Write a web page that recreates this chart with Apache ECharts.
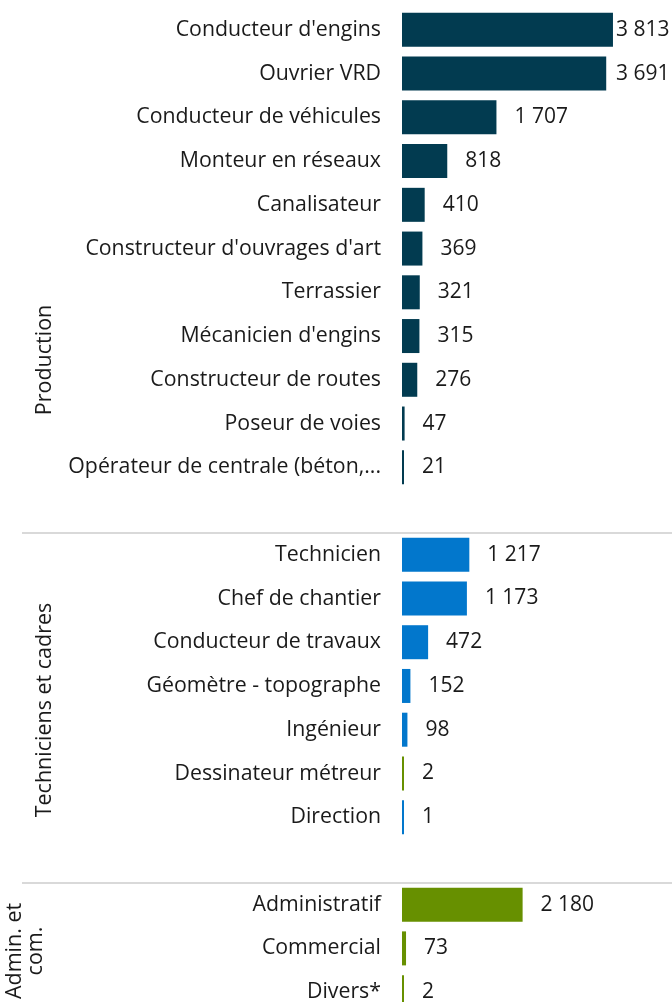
<!DOCTYPE html>
<html lang="fr">
<head>
    <meta charset="UTF-8">
    <title>Métiers</title>
    <script type="text/javascript" src="https://cdn.jsdelivr.net/npm/echarts@6/dist/echarts.min.js"></script>
    <style>
        html, body { margin: 0; padding: 0; background: #fff; }
    </style>
</head>
<body>
    <div id="main" style="width: 672px;height:1002px;"></div>

    <script type="text/javascript">

    // groupes et métiers
    var groupNames = ['Production', 'Techniciens et cadres', 'Admin. et\ncom.'];

    var prodNames = ["Conducteur d'engins", 'Ouvrier VRD', 'Conducteur de véhicules', 'Monteur en réseaux',
        'Canalisateur', "Constructeur d'ouvrages d'art", 'Terrassier', "Mécanicien d'engins",
        'Constructeur de routes', 'Poseur de voies', 'Opérateur de centrale (béton, enrobés)'];
    var prodValues = [3813, 3691, 1707, 818, 410, 369, 321, 315, 276, 47, 21];

    var techNames = ['Technicien', 'Chef de chantier', 'Conducteur de travaux', 'Géomètre - topographe',
        'Ingénieur', 'Dessinateur métreur', 'Direction'];
    var techValues = [1217, 1173, 472, 152, 98, 2, 1];

    var adminNames = ['Administratif', 'Commercial', 'Divers*'];
    var adminValues = [2180, 73, 2];

    var dark = '#023b50';
    var blue = '#0277cc';
    var green = '#679000';
    var groupColors = [dark, blue, green];
    var colorOverride = {'Dessinateur métreur': green};

    var xMax = 4880;
    var gridLeft = 402;
    var plotWidth = 672 - gridLeft;

    function fmt(v) {
        return String(v).replace(/\B(?=(\d{3})+(?!\d))/g, ' ');
    }

    // one category list, a blank row between groups
    var categories = [];
    var barData = [];
    var groupStart = [];
    [[prodNames, prodValues], [techNames, techValues], [adminNames, adminValues]].forEach(function (g, gi) {
        if (gi > 0) {
            categories.push('');
            barData.push('-');
        }
        groupStart.push(categories.length);
        g[0].forEach(function (name, i) {
            var v = g[1][i];
            var barEnd = v / xMax * plotWidth;
            categories.push(name);
            barData.push({
                value: v,
                itemStyle: {color: colorOverride[name] || groupColors[gi]},
                label: {distance: Math.min(18, 616 - gridLeft - barEnd)}
            });
        });
    });

    var font = '"Open Sans", "Noto Sans", sans-serif';
    var groupFont = '21.5px ' + font;

    var option = {
        backgroundColor: '#fff',
        animation: false,
        grid: [
            {left: gridLeft, right: 0, top: 8, height: 1006, outerBoundsMode: 'none'},
            {left: 22, right: 0, top: 8, height: 1006, outerBoundsMode: 'none'}
        ],
        xAxis: [
            {type: 'value', gridIndex: 0, min: 0, max: xMax, show: false},
            {type: 'value', gridIndex: 1, min: 0, max: 1, show: false}
        ],
        yAxis: [
            {
                type: 'category',
                gridIndex: 0,
                inverse: true,
                data: categories,
                axisLine: {show: false},
                axisTick: {show: false},
                splitLine: {show: false},
                axisLabel: {
                    fontSize: 21.3,
                    fontFamily: font,
                    color: '#1a1a1a',
                    margin: 21,
                    width: 328,
                    overflow: 'truncate',
                    ellipsis: '...',
                    interval: 0
                }
            },
            {   // separator lines between the groups
                type: 'category',
                gridIndex: 1,
                inverse: true,
                data: categories,
                axisLine: {show: false},
                axisTick: {show: false},
                axisLabel: {show: false},
                splitLine: {
                    show: true,
                    interval: function (index) {
                        return index === groupStart[1] || index === groupStart[2];
                    },
                    lineStyle: {color: '#d9d9d9', width: 2}
                }
            }
        ],
        series: [{
            type: 'bar',
            xAxisIndex: 0,
            yAxisIndex: 0,
            barWidth: 34,
            barMinHeight: 2,
            data: barData,
            label: {
                show: true,
                position: 'right',
                fontSize: 21,
                fontFamily: font,
                color: '#1a1a1a',
                formatter: function (p) { return fmt(p.value); }
            }
        }],
        graphic: [
            {type: 'text', x: 45, y: 360, rotation: Math.PI / 2,
                style: {text: groupNames[0], font: groupFont, fill: '#1a1a1a', align: 'center', verticalAlign: 'middle'}},
            {type: 'text', x: 45, y: 710, rotation: Math.PI / 2,
                style: {text: groupNames[1], font: groupFont, fill: '#1a1a1a', align: 'center', verticalAlign: 'middle'}},
            {type: 'text', x: 25, y: 951, rotation: Math.PI / 2,
                style: {text: groupNames[2], font: groupFont, fill: '#1a1a1a', align: 'center', verticalAlign: 'middle', lineHeight: 21}}
        ]
    };

    var myChart = echarts.init(document.getElementById('main'));
    myChart.setOption(option);
    </script>
</body>
</html>
